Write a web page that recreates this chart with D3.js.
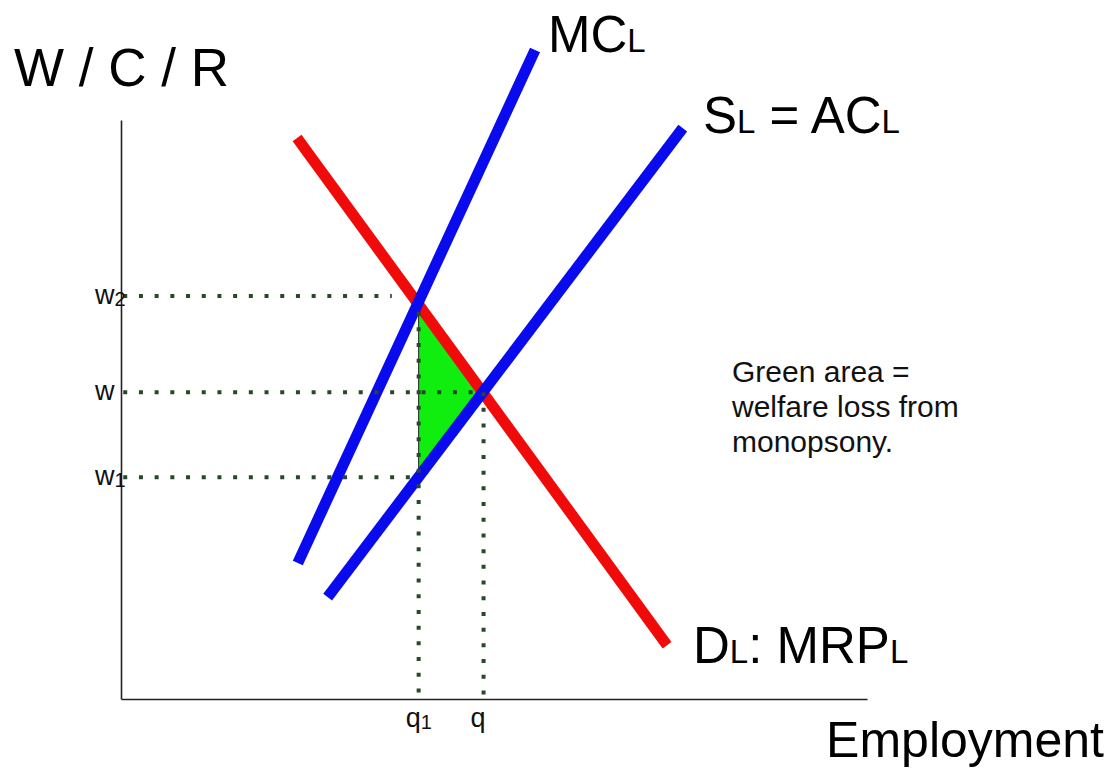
<!DOCTYPE html>
<html><head><meta charset="utf-8">
<script src="https://cdn.jsdelivr.net/npm/d3@7"></script>
<style>
html,body{margin:0;padding:0;background:#fff;}
svg{display:block;font-family:"Liberation Sans",Arial,sans-serif;}
</style></head>
<body>
<svg id="chart" width="1111" height="770"></svg>
<script>
// ---- data (economic units) ----
const demandCurve = [[23.6, 96.9], [73.2, 9.3]];      // D_L : MRP_L
const mcCurve     = [[23.7, 23.5], [55.5, 112.1]];    // MC_L
const supplyCurve = [[27.7, 17.6], [75.3, 98.6]];     // S_L = AC_L
const welfareLoss = [[39.9, 68.1], [39.9, 38.3], [48.5, 53.0]];
const yTickLabels = [{t: "w", s: "2", v: 69.6}, {t: "w", s: "", v: 53.0}, {t: "w", s: "1", v: 38.3}];
const xTickLabels = [{t: "q", s: "1", v: 39.9}, {t: "q", s: "", v: 48.6}];
const guideLines = [
  [[0.3, 69.6], [36.3, 69.6]],
  [[0.3, 53.0], [48.6, 53.0]],
  [[0.3, 38.3], [39.9, 38.3]],
  [[39.9, 66.9], [39.9, 0]],
  [[48.6, 53.0], [48.6, 0]]
];
const curveLabels = [
  {main: ["MC", "L"], x: 548, y: 52},
  {main: ["S", "L", " = AC", "L"], x: 703, y: 133},
  {main: ["D", "L", ": MRP", "L"], x: 693, y: 663}
];
const noteLines = ["Green area =", "welfare loss from", "monopsony."];

// ---- scales ----
const svg = d3.select("#chart");
const x = d3.scaleLinear().domain([0, 100]).range([121, 867]);
const y = d3.scaleLinear().domain([0, 100]).range([699, 120]);
const line = d3.line().x(d => x(d[0])).y(d => y(d[1]));

// axes
svg.append("g").attr("transform", `translate(0,${y(0)})`)
  .call(d3.axisBottom(x).tickValues([]).tickSizeOuter(0))
  .select(".domain").attr("stroke", "#222").attr("stroke-width", 1.6);
svg.append("g").attr("transform", `translate(${x(0)},0)`)
  .call(d3.axisLeft(y).tickValues([]).tickSizeOuter(0))
  .select(".domain").attr("stroke", "#222").attr("stroke-width", 1.6);

// green area
svg.append("path").datum(welfareLoss)
  .attr("d", d => line(d) + "Z")
  .attr("fill", "#10ee10").attr("stroke", "#222").attr("stroke-width", 1);

// curves
[[demandCurve, "#f00a0a"], [mcCurve, "#0a0aee"], [supplyCurve, "#0a0aee"]].forEach(([d, c]) => {
  svg.append("path").datum(d).attr("d", line)
    .attr("stroke", c).attr("stroke-width", 11).attr("fill", "none");
});

// guide lines (dotted)
svg.selectAll(".guide").data(guideLines).enter().append("path")
  .attr("class", "guide").attr("d", line)
  .attr("stroke", "#2b472b").attr("stroke-width", 4)
  .attr("stroke-dasharray", "4,11.7").attr("fill", "none");

// tick labels
yTickLabels.forEach(d => {
  const t = svg.append("text").attr("x", 95).attr("y", y(d.v) + 8)
    .attr("font-size", 27).attr("fill", "#111");
  t.append("tspan").text(d.t);
  if (d.s) t.append("tspan").attr("font-size", 20).attr("dy", 2).text(d.s);
});
xTickLabels.forEach(d => {
  const t = svg.append("text").attr("x", x(d.v) - 13).attr("y", 727)
    .attr("font-size", 27).attr("fill", "#111");
  t.append("tspan").text(d.t);
  if (d.s) t.append("tspan").attr("font-size", 20).attr("dy", 2).text(d.s);
});

// curve labels
curveLabels.forEach(c => {
  const t = svg.append("text").attr("x", c.x).attr("y", c.y).attr("font-size", 50).attr("fill", "#000");
  c.main.forEach((s, i) => {
    t.append("tspan").attr("font-size", i % 2 === 1 ? 33 : 51).text(s);
  });
});

// axis titles
svg.append("text").attr("x", 14).attr("y", 86).attr("font-size", 53).attr("fill", "#000")
  .attr("xml:space", "preserve").text("W / C / R");
svg.append("text").attr("x", 1104).attr("y", 757).attr("text-anchor", "end")
  .attr("font-size", 50).attr("fill", "#000").text("Employment");

// note (one text per line)
noteLines.forEach((s, i) => {
  svg.append("text").attr("x", 732).attr("y", 382 + i * 35)
    .attr("font-size", 30).attr("fill", "#111").text(s);
});
</script>
</body></html>
